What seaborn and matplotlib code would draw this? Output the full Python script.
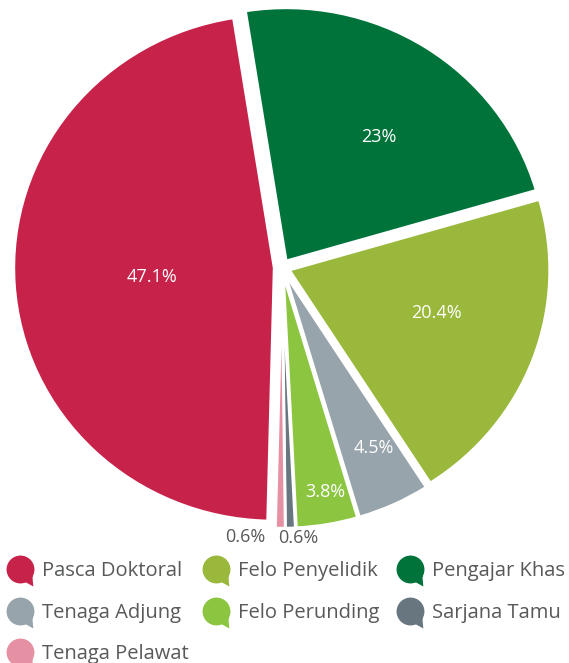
import numpy as np
import matplotlib
matplotlib.use("Agg")
import matplotlib.pyplot as plt
from matplotlib.path import Path
from matplotlib.lines import Line2D
import seaborn as sns

# Staff categories, clockwise from the top of the pie
categories = ["Pengajar Khas", "Felo Penyelidik", "Tenaga Adjung", "Felo Perunding",
              "Sarjana Tamu", "Tenaga Pelawat", "Pasca Doktoral"]
shares = [23.0, 20.4, 4.5, 3.8, 0.6, 0.6, 47.1]
pct_labels = ["23%", "20.4%", "4.5%", "3.8%", "0.6%", "0.6%", "47.1%"]
colors = ["#00733B", "#99B83C", "#97A4AB", "#8CC540", "#68777F", "#E690A4", "#C7224A"]

# Legend order, row by row
legend_rows = [["Pasca Doktoral", "Felo Penyelidik", "Pengajar Khas"],
               ["Tenaga Adjung", "Felo Perunding", "Sarjana Tamu"],
               ["Tenaga Pelawat"]]

sns.set_style("white")
plt.rcParams["font.family"] = ["Open Sans", "DejaVu Sans"]
palette = sns.color_palette(colors)

W, H = 569, 663
fig = plt.figure(figsize=(W / 100, H / 100), dpi=100)

# Pie axes: centre and scale in pixels
cx, cy, ux, uy = 282.0, 267.4, 260.4, 253.2
ax = fig.add_axes([(cx - 1.1 * ux) / W, (H - cy - 1.1 * uy) / H, 2.2 * ux / W, 2.2 * uy / H])

wedges, _ = ax.pie(shares, colors=palette, startangle=99, counterclock=False,
                   explode=[0.03] * len(shares),
                   wedgeprops=dict(edgecolor="white", linewidth=2.0))
ax.set_xlim(-1.1, 1.1)
ax.set_ylim(-1.1, 1.1)
ax.set_aspect("auto")
ax.axis("off")

# Label placement: radius and angular nudge (degrees) from each slice's middle
label_r = [0.635, 0.618, 0.795, 0.902, 1.071, 1.075, 0.50]
label_dtheta = [-3.4, 3.6, 1.8, 0.8, 1.5, -7.2, 0.6]
inside = [True, True, True, True, False, False, True]

for w, txt, r, dt, ins in zip(wedges, pct_labels, label_r, label_dtheta, inside):
    mid = np.deg2rad((w.theta1 + w.theta2) / 2 + dt)
    ax.text(r * np.cos(mid), r * np.sin(mid), txt, ha="center", va="center",
            fontsize=13, color="white" if ins else "#58595B", clip_on=False)

# Speech-bubble legend marker: circle with a tail at the lower right
circle = Path.unit_circle()
tail = Path([(0.35, -0.9), (0.92, -1.22), (0.85, -0.45), (0.35, -0.9)],
            [Path.MOVETO, Path.LINETO, Path.LINETO, Path.CLOSEPOLY])
bubble = Path.make_compound_path(circle, tail)

color_of = dict(zip(categories, palette))
n_cols = 3
col_left_px = [6, 202, 396]
for c in range(n_cols):
    names = [row[c] for row in legend_rows if c < len(row)]
    handles = [Line2D([], [], linestyle="none", marker=bubble, markersize=24.5,
                      markerfacecolor=color_of[n], markeredgewidth=0) for n in names]
    fig.legend(handles, names, loc="upper left",
               bbox_to_anchor=(col_left_px[c] / W, 1 - 561 / H),
               frameon=False, fontsize=14.5, labelcolor="#58595B",
               handlelength=1.39, handletextpad=0.4,
               labelspacing=1.07, borderpad=0, borderaxespad=0)

fig.savefig("out.png", dpi=100)
